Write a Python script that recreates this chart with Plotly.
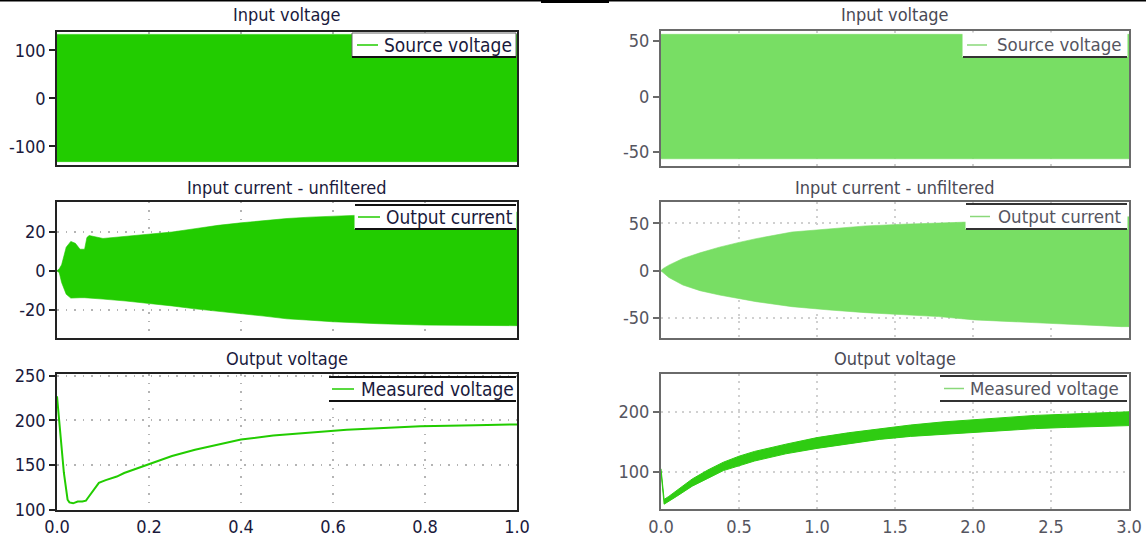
import plotly.graph_objects as go

W, H = 1146, 542

# ---------------- data ----------------
# Left column (0..1 s)
t_vin_L = [0.0, 1.0]
vin_L_upper = [133, 133]
vin_L_lower = [-132, -132]

t_iin_L = [0, 0.005, 0.01, 0.02, 0.03, 0.04, 0.05, 0.06, 0.065, 0.07, 0.1, 0.15, 0.2,
           0.25, 0.3, 0.35, 0.4, 0.45, 0.5, 0.55, 0.6, 0.65, 0.7, 0.8, 0.9, 1.0]
iin_L_upper = [0, 1, 3, 12, 15, 14, 11, 11, 17, 18, 16.5, 17.5, 18.6, 19.8, 21.5, 23.2,
               24.5, 25.6, 26.7, 27.4, 27.9, 28.3, 28.8, 29.3, 29.6, 30]
iin_L_lower = [0, -1, -6, -12, -14, -14, -13.8, -13.8, -13.8, -13.8, -14.5, -15.5, -16.7,
               -18, -19.5, -20.8, -22, -23.2, -24.6, -25.3, -26.1, -26.7, -27.1, -27.8,
               -27.8, -28.1]

t_vout_L = [0.0, 0.007, 0.015, 0.023, 0.027, 0.035, 0.045, 0.055, 0.063, 0.067, 0.079,
            0.091, 0.106, 0.13, 0.146, 0.178, 0.21, 0.25, 0.3, 0.35, 0.4, 0.47, 0.55,
            0.63, 0.71, 0.79, 0.91, 1.0]
vout_L = [227, 186, 141, 111, 108, 107, 109, 109, 110, 113, 122, 130, 133, 137, 141, 147,
          153, 160, 167, 173, 178.5, 183, 186, 189.5, 191.5, 193.5, 194.5, 195.5]

# Right column (0..3 s)
t_vin_R = [0.0, 3.0]
vin_R_upper = [56, 56]
vin_R_lower = [-56, -56]

t_iin_R = [0, 0.01, 0.05, 0.14, 0.25, 0.375, 0.5, 0.61, 0.84, 1.08, 1.31, 1.55, 1.78,
           2.01, 2.25, 2.48, 2.72, 2.95, 3.0]
iin_R_upper = [0, 2, 6, 13, 19, 25, 30, 34, 41, 44.6, 47.4, 49.2, 50.5, 52, 53.5, 55, 56,
               57, 57]
iin_R_lower = [0, -2, -7, -15, -21, -25.6, -29.5, -32.6, -37.9, -41.4, -44.2, -46.6,
               -48.4, -51.9, -53.7, -55.4, -57.2, -59, -59]

t_vout_R = [0.0, 0.02, 0.05, 0.1, 0.2, 0.3, 0.4, 0.5, 0.6, 0.8, 1.0, 1.2, 1.4, 1.6, 1.8,
            2.0, 2.2, 2.4, 2.6, 2.8, 3.0]
vout_R_upper = [105, 54, 59, 69, 88, 103, 116, 126, 134, 146, 157, 165, 172, 178, 183,
                187, 191, 194, 196, 198, 200]
vout_R_lower = [100, 46, 51, 59, 76, 89, 102, 110, 118, 130, 139, 147, 154, 159, 163,
                166, 169, 172, 174, 176, 177]

titles = ["Input voltage", "Input current - unfiltered", "Output voltage"]
legend_names = ["Source voltage", "Output current", "Measured voltage"]
xticks_L = [0.0, 0.2, 0.4, 0.6, 0.8, 1.0]
xticks_R = [0.0, 0.5, 1.0, 1.5, 2.0, 2.5, 3.0]

# ---------------- styling ----------------
FONT = "DejaVu Sans Condensed, Tahoma, DejaVu Sans, sans-serif"
GREEN_L = "#22CC00"
GREEN_R = "#78DE64"
GREEN_R2 = "#2FCC12"
TXT_L = "#1a1a3c"
TXT_R = "#555560"

# frames in pixels: (x0, x1, y0, y1)
frames = {
    1: (57, 517, 32, 165), 2: (57, 517, 201.5, 338), 3: (57, 517, 374, 510),
    4: (661, 1129, 31, 166), 5: (661, 1129, 202, 338), 6: (661, 1129, 374, 509),
}
# legend boxes in pixels: (x0, x1, y0, y1, sample_x0, sample_x1, text_x)
legboxes = {
    1: (352, 516, 33, 57, 357, 378, 382),
    2: (355, 516, 205, 229, 358, 380, 384),
    3: (329, 516, 377, 401, 332, 354, 359),
    4: (963, 1127, 33, 57, 967, 987, 995),
    5: (966, 1127, 204, 229, 970, 990, 996),
    6: (940, 1127, 376, 401, 944, 964, 968),
}

fig = go.Figure()


def band(t, up, lo, color, k, lw=0.6):
    fig.add_trace(go.Scatter(
        x=list(t) + list(t)[::-1], y=list(up) + list(lo)[::-1],
        fill="toself", fillcolor=color, mode="lines",
        line=dict(color=color, width=lw), showlegend=False, hoverinfo="skip",
        xaxis=f"x{k}", yaxis=f"y{k}"))


band(t_vin_L, vin_L_upper, vin_L_lower, GREEN_L, 1)
band(t_iin_L, iin_L_upper, iin_L_lower, GREEN_L, 2)
fig.add_trace(go.Scatter(x=t_vout_L, y=vout_L, mode="lines", showlegend=False,
                         line=dict(color=GREEN_L, width=2), xaxis="x3", yaxis="y3"))
band(t_vin_R, vin_R_upper, vin_R_lower, GREEN_R, 4)
band(t_iin_R, iin_R_upper, iin_R_lower, GREEN_R, 5)
band(t_vout_R, vout_R_upper, vout_R_lower, GREEN_R2, 6, lw=1)

yranges = {1: [-139, 138], 2: [-34.4, 35.4], 3: [99.5, 252],
           4: [-62.5, 59], 5: [-71, 72.7], 6: [38, 263]}
ytickvals = {1: [-100, 0, 100], 2: [-20, 0, 20], 3: [100, 150, 200, 250],
             4: [-50, 0, 50], 5: [-50, 0, 50], 6: [100, 200]}

layout = dict(width=W, height=H, margin=dict(l=0, r=0, t=0, b=0, autoexpand=False),
              plot_bgcolor="white", paper_bgcolor="white", showlegend=False,
              font=dict(family=FONT, size=18, color=TXT_L))

for k, (x0, x1, y0, y1) in frames.items():
    left = k <= 3
    txtc = TXT_L if left else TXT_R
    linec = "#222222" if left else "#6a6a6a"
    lw = 1.5 if left else 2
    gridc = "#b4b4b4" if left else "#d0d0d0"
    gdash = "1.5px,7px" if left else "2px,5px"
    xticks = xticks_L if left else xticks_R
    xr = [0, 1] if left else [0, 3]
    layout[f"xaxis{k}"] = dict(
        domain=[x0 / W, x1 / W], anchor=f"y{k}", range=xr, tickvals=xticks,
        ticktext=[f"{v:.1f}" for v in xticks], showticklabels=(k in (3, 6)),
        showline=True, mirror=True, linecolor=linec, linewidth=lw, automargin=False,
        showgrid=True, gridcolor=gridc, griddash=gdash, gridwidth=1.5,
        zeroline=False, ticks="", tickfont=dict(size=18, color=txtc, family=FONT))
    layout[f"yaxis{k}"] = dict(
        domain=[1 - y1 / H, 1 - y0 / H], anchor=f"x{k}", range=yranges[k],
        tickvals=ytickvals[k], ticktext=[str(v) for v in ytickvals[k]],
        showline=True, mirror=True, linecolor=linec, linewidth=lw, automargin=False,
        showgrid=True, gridcolor=gridc, griddash=gdash, gridwidth=1.5, zeroline=False,
        ticks="outside", ticklen=6, tickwidth=1.5, tickcolor=linec,
        tickfont=dict(size=18, color=txtc, family=FONT))

fig.update_layout(**layout)

annots = []
shapes = []
# subplot titles
for col, (x0, x1) in enumerate([(57, 517), (661, 1129)]):
    for i, ty in enumerate([15, 187, 358]):
        annots.append(dict(text=titles[i], x=(x0 + x1) / 2 / W, y=1 - ty / H,
                           xref="paper", yref="paper", showarrow=False,
                           xanchor="center", yanchor="middle",
                           font=dict(size=18, family=FONT,
                                     color=TXT_L if col == 0 else "#4a4a55")))

# legends (box, top/bottom rules, sample line, label)
for k, (bx0, bx1, by0, by1, sx0, sx1, tx) in legboxes.items():
    left = k <= 3
    name = legend_names[(k - 1) % 3]
    ruled = "#111111" if left else "#333333"
    samplec = GREEN_L if left else "#8ad87a"
    ym = (by0 + by1) / 2
    shapes.append(dict(type="rect", xref="paper", yref="paper",
                       x0=bx0 / W, x1=bx1 / W, y0=1 - by1 / H, y1=1 - by0 / H,
                       fillcolor="white",
                       line=dict(color="#666666" if k == 1 else "white", width=1)))
    shapes.append(dict(type="line", xref="paper", yref="paper", x0=bx0 / W, x1=bx1 / W,
                       y0=1 - by1 / H, y1=1 - by1 / H, line=dict(color=ruled, width=2)))
    if k not in (1, 4):
        shapes.append(dict(type="line", xref="paper", yref="paper", x0=bx0 / W,
                           x1=bx1 / W, y0=1 - by0 / H, y1=1 - by0 / H,
                           line=dict(color=ruled, width=2)))
    shapes.append(dict(type="line", xref="paper", yref="paper", x0=sx0 / W, x1=sx1 / W,
                       y0=1 - ym / H, y1=1 - ym / H, line=dict(color=samplec, width=1.5)))
    annots.append(dict(text=name, x=tx / W, y=1 - ym / H, xref="paper", yref="paper",
                       showarrow=False, xanchor="left", yanchor="middle",
                       font=dict(size=19 if left else 18.5, family=FONT,
                                 color=TXT_L if left else TXT_R)))

# page top border lines
shapes += [
    dict(type="line", xref="paper", yref="paper", x0=0, x1=1, y0=1 - 0.8 / H, y1=1 - 0.8 / H,
         line=dict(color="black", width=1.5)),
    dict(type="line", xref="paper", yref="paper", x0=541 / W, x1=609 / W,
         y0=1 - 1.5 / H, y1=1 - 1.5 / H, line=dict(color="black", width=3)),
]
fig.update_layout(annotations=annots, shapes=shapes)

fig.write_html("out.html", config={"displayModeBar": False},
               post_script="document.body.style.margin='0px';"
                           "document.body.style.overflow='hidden';")
